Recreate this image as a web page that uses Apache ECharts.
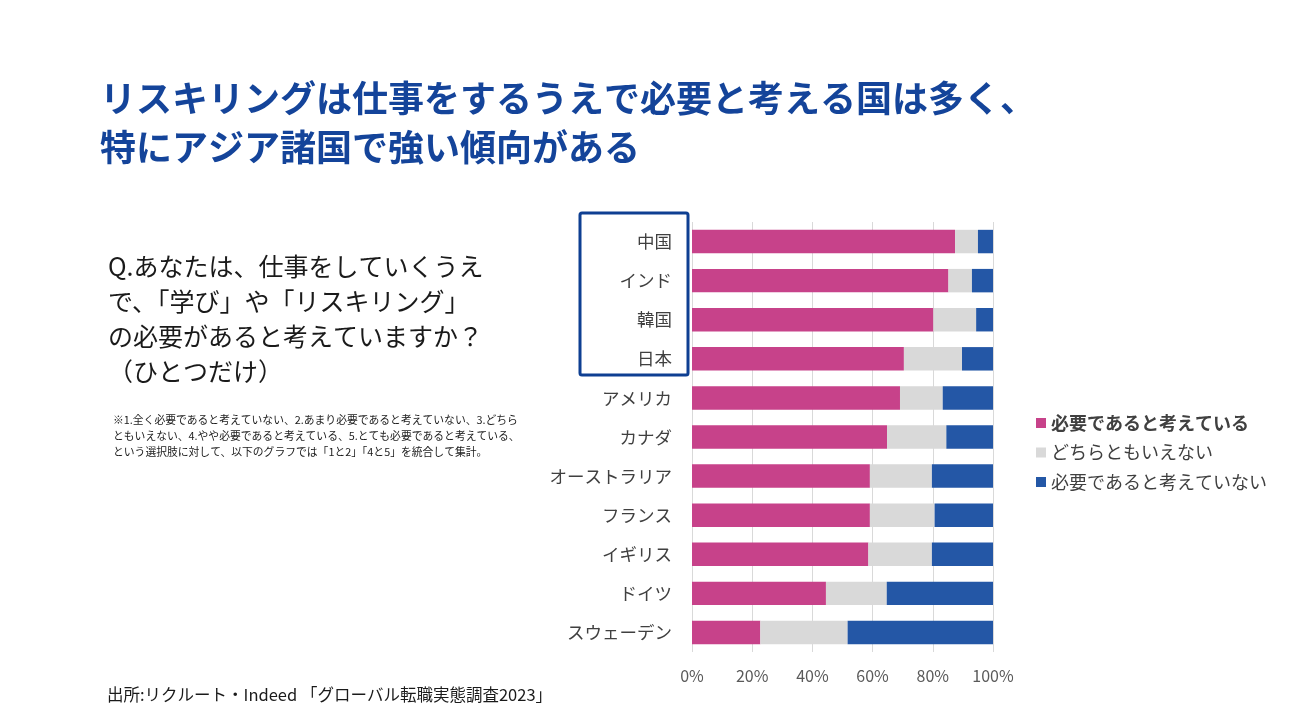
<!DOCTYPE html>
<html>
<head>
<meta charset="utf-8">
<script src="https://cdn.jsdelivr.net/npm/echarts@6/dist/echarts.min.js"></script>
<style>
html,body{margin:0;padding:0;background:#fff;}
#c{width:1295px;height:723px;}
</style>
</head>
<body>
<div id="c"></div>
<script>
var categories = ['中国','インド','韓国','日本','アメリカ','カナダ','オーストラリア','フランス','イギリス','ドイツ','スウェーデン'];
var seriesNames = ['必要であると考えている','どちらともいえない','必要であると考えていない'];
var needed =    [87.4, 85.2, 80.2, 70.4, 69.1, 64.8, 59.1, 59.1, 58.6, 44.5, 22.7];
var neutral =   [7.6, 7.8, 14.2, 19.3, 14.2, 19.7, 20.6, 21.5, 21.1, 20.2, 29.0];
var notNeeded = [5.0, 7.0, 5.6, 10.3, 16.7, 15.5, 20.3, 19.4, 20.3, 35.3, 48.3];
var xTicks = [0, 20, 40, 60, 80, 100];

var colors = ['#C7428A', '#D9D9D9', '#2457A6'];
var fontFam = '"Noto Sans CJK JP", "Noto Sans", sans-serif';

var chart = echarts.init(document.getElementById('c'), null, {renderer: 'canvas'});
var option = {
  backgroundColor: '#fff',
  color: colors,
  textStyle: {fontFamily: fontFam},
  title: {
    text: 'リスキリングは仕事をするうえで必要と考える国は多く、\n特にアジア諸国で強い傾向がある',
    left: 95, top: 69,
    textStyle: {color: '#14449A', fontSize: 36, fontWeight: 'bold', lineHeight: 49, fontFamily: fontFam}
  },
  legend: {
    orient: 'vertical',
    left: 1031, top: 408,
    itemWidth: 10, itemHeight: 10, itemGap: 9.5,
    icon: 'rect',
    textStyle: {fontSize: 18, color: '#404040', lineHeight: 20, fontFamily: fontFam},
    data: [
      {name: seriesNames[0], textStyle: {fontWeight: 'bold'}},
      {name: seriesNames[1]},
      {name: seriesNames[2]}
    ]
  },
  grid: {left: 692, right: 302, top: 222, bottom: 71, containLabel: false},
  xAxis: {
    type: 'value', min: 0, max: 100, interval: 20,
    axisLabel: {
      formatter: function(v){ return xTicks.indexOf(v) >= 0 ? v + '%' : ''; },
      color: '#595959', fontSize: 16, margin: 16
    },
    axisLine: {show: false}, axisTick: {show: false},
    splitLine: {show: true, lineStyle: {color: '#D9D9D9', width: 1}}
  },
  yAxis: {
    type: 'category', data: categories, inverse: true,
    axisLine: {show: false}, axisTick: {show: false},
    axisLabel: {color: '#404040', fontSize: 17.5, margin: 20}
  },
  series: [
    {name: seriesNames[0], type: 'bar', stack: 'a', data: needed, barCategoryGap: '40%'},
    {name: seriesNames[1], type: 'bar', stack: 'a', data: neutral},
    {name: seriesNames[2], type: 'bar', stack: 'a', data: notNeeded}
  ],
  graphic: [
    {type: 'rect', shape: {x: 580, y: 213, width: 108, height: 162, r: 2},
     style: {fill: 'none', stroke: '#0E3F92', lineWidth: 3}, z: 100},
    {type: 'text', left: 108, top: 249,
     style: {text: 'Q.あなたは、仕事をしていくうえ\nで、「学び」や「リスキリング」\nの必要があると考えていますか？\n（ひとつだけ）',
       font: '25px ' + fontFam, fill: '#1a1a1a', lineHeight: 35}},
    {type: 'text', left: 113, top: 412,
     style: {text: '※1.全く必要であると考えていない、2.あまり必要であると考えていない、3.どちら\nともいえない、4.やや必要であると考えている、5.とても必要であると考えている、\nという選択肢に対して、以下のグラフでは「1と2」「4と5」を統合して集計。',
       font: '10.8px ' + fontFam, fill: '#1a1a1a', lineHeight: 16}},
    {type: 'text', left: 107, top: 686,
     style: {text: '出所:リクルート・Indeed 「グローバル転職実態調査2023」',
       font: '16.5px ' + fontFam, fill: '#1a1a1a'}}
  ]
};
chart.setOption(option);
</script>
</body>
</html>
